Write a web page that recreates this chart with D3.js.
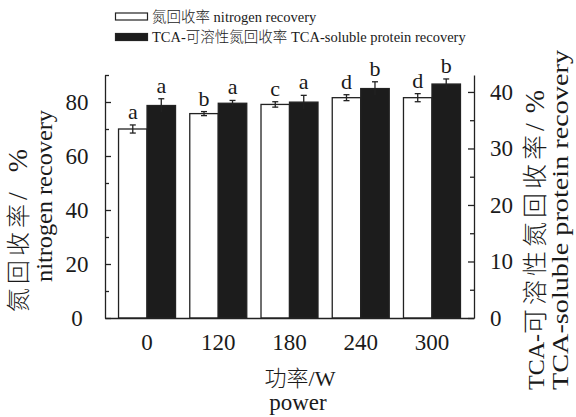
<!DOCTYPE html>
<html>
<head>
<meta charset="utf-8">
<script src="https://cdn.jsdelivr.net/npm/d3@7"></script>
<style>
  body { margin: 0; background: #fff; }
  svg { display: block; }
  text { font-family: "Liberation Serif", "Times New Roman", "Noto Sans CJK SC", serif; fill: #1a1a1a; }
  .cjk { font-weight: 300; }
</style>
</head>
<body>
<svg id="chart" width="576" height="417"></svg>
<script>
// Microwave power levels (W)
const powers = ["0", "120", "180", "240", "300"];

// Nitrogen recovery (%), left axis
const nitrogenRecovery = [70.0, 75.7, 79.1, 81.6, 81.6];
const nitrogenError = [1.5, 0.75, 1.0, 1.1, 1.5];
const nitrogenLetters = ["a", "b", "c", "d", "d"];

// TCA-soluble protein recovery (%), right axis
const tcaRecovery = [37.6, 38.0, 38.2, 40.6, 41.4];
const tcaError = [1.2, 0.5, 1.2, 1.2, 0.9];
const tcaLetters = ["a", "a", "a", "b", "b"];

const leftTicks = [0, 20, 40, 60, 80];
const leftMinorTicks = [10, 30, 50, 70, 90];
const rightTicks = [0, 10, 20, 30, 40];
const rightMinorTicks = [5, 15, 25, 35];

const seriesKeys = ["nitrogen", "tca"];
const seriesNames = ["氮回收率 nitrogen recovery", "TCA-可溶性氮回收率 TCA-soluble protein recovery"];
const seriesFills = ["#ffffff", "#1c1c1c"];

const svg = d3.select("#chart");
const ink = "#222";

const plot = { left: 105, right: 474, top: 75, bottom: 318 };

const x = d3.scaleBand().domain(powers).range([plot.left, plot.right]).paddingInner(0.2).paddingOuter(0.19);
const xs = d3.scaleBand().domain(seriesKeys).range([0, x.bandwidth()]);
const yL = d3.scaleLinear().domain([0, 90]).range([plot.bottom, plot.top]);
const yR = d3.scaleLinear().domain([0, 43]).range([plot.bottom, plot.top]);

const rows = powers.map((p, i) => [
  { p, key: "nitrogen", v: nitrogenRecovery[i], e: nitrogenError[i], letter: nitrogenLetters[i], y: yL, fill: seriesFills[0] },
  { p, key: "tca", v: tcaRecovery[i], e: tcaError[i], letter: tcaLetters[i], y: yR, fill: seriesFills[1] }
]).flat();

// Bars
svg.append("g").selectAll("rect").data(rows).join("rect")
  .attr("x", d => x(d.p) + xs(d.key))
  .attr("y", d => d.y(d.v))
  .attr("width", xs.bandwidth())
  .attr("height", d => d.y(0) - d.y(d.v))
  .attr("fill", d => d.fill)
  .attr("stroke", ink)
  .attr("stroke-width", 1.3);

// Error bars
const eb = svg.append("g").attr("stroke", ink).attr("stroke-width", 1.3).attr("fill", "none");
rows.forEach(d => {
  const cx = x(d.p) + xs(d.key) + xs.bandwidth() / 2;
  const y1 = d.y(d.v + d.e), y2 = d.y(d.v - d.e);
  eb.append("line").attr("x1", cx).attr("x2", cx).attr("y1", y1).attr("y2", y2);
  eb.append("line").attr("x1", cx - 3).attr("x2", cx + 3).attr("y1", y1).attr("y2", y1);
  eb.append("line").attr("x1", cx - 3).attr("x2", cx + 3).attr("y1", y2).attr("y2", y2)
    .attr("stroke", d.key === "tca" ? "none" : ink);
});

// Significance letters
svg.append("g").selectAll("text").data(rows).join("text")
  .attr("x", d => x(d.p) + xs(d.key) + xs.bandwidth() / 2)
  .attr("y", d => d.y(d.v + d.e) - 6)
  .attr("text-anchor", "middle")
  .style("font-size", "22px")
  .text(d => d.letter);

// Left axis
const gL = svg.append("g").attr("transform", `translate(${plot.left},0)`);
gL.call(d3.axisLeft(yL).tickValues(leftTicks).tickSizeInner(-6).tickSizeOuter(0).tickPadding(0).tickFormat(d3.format("d")));
gL.append("g").call(d3.axisLeft(yL).tickValues(leftMinorTicks).tickSizeInner(-4).tickSizeOuter(0).tickFormat(""))
  .select(".domain").remove();
gL.selectAll("text").attr("x", -28).attr("text-anchor", "middle")
  .style("font-size", "23px");

// Right axis
const gR = svg.append("g").attr("transform", `translate(${plot.right},0)`);
gR.call(d3.axisRight(yR).tickValues(rightTicks).tickSizeInner(-6).tickSizeOuter(0).tickPadding(0).tickFormat(d3.format("d")));
gR.append("g").call(d3.axisRight(yR).tickValues(rightMinorTicks).tickSizeInner(-4).tickSizeOuter(0).tickFormat(""))
  .select(".domain").remove();
gR.selectAll("text").attr("x", 16).attr("text-anchor", "start")
  .style("font-size", "23px");

// Bottom axis
const gB = svg.append("g").attr("transform", `translate(0,${plot.bottom})`);
gB.call(d3.axisBottom(x).tickSize(0).tickPadding(0));
gB.selectAll("text").attr("y", 32).attr("dy", 0)
  .style("font-size", "23px");

svg.selectAll(".domain").attr("stroke", ink).attr("stroke-width", 1.3);
svg.selectAll(".tick line").attr("stroke", ink).attr("stroke-width", 1.3);

// Axis titles
svg.append("text").attr("class", "cjk").attr("x", 300).attr("y", 386).attr("text-anchor", "middle")
  .style("font-size", "22px").text("功率/W");
svg.append("text").attr("x", 298).attr("y", 410).attr("text-anchor", "middle")
  .style("font-size", "23px").text("power");

// Vertical titles, drawn bottom-to-top from yStart; each part may carry its own size and spacing
function vTitle(cx, yStart, parts, opts = {}) {
  const t = svg.append("text")
    .attr("class", opts.cls || null)
    .attr("transform", `translate(${cx},${yStart}) rotate(-90)`)
    .attr("dy", "0.35em");
  if (opts.len) t.attr("textLength", opts.len).attr("lengthAdjust", "spacingAndGlyphs");
  parts.forEach(p => {
    t.append("tspan")
      .attr("dx", p.dx || 0)
      .style("font-size", p.size + "px")
      .style("letter-spacing", (p.ls || 0) + "px")
      .text(p.s);
  });
}
vTitle(21, 312, [
  { s: "氮回收率", size: 24, ls: 4 },
  { s: "/", size: 28, dx: 0 },
  { s: "%", size: 28, dx: 20 }
], { cls: "cjk" });
vTitle(46, 282, [{ s: "nitrogen recovery", size: 24 }], { len: 172 });
vTitle(538, 390, [
  { s: "TCA-", size: 24 },
  { s: "可溶性氮回收率", size: 25, ls: 4 },
  { s: "/", size: 28, dx: 0 },
  { s: "%", size: 28, dx: 10 }
], { cls: "cjk" });
vTitle(562, 390, [{ s: "TCA-soluble protein recovery", size: 24 }], { len: 340 });

// Legend
const legend = svg.append("g");
seriesNames.forEach((name, i) => {
  const ly = 13 + i * 20.5;
  legend.append("rect").attr("x", 115.5).attr("y", ly).attr("width", 32).attr("height", 7)
    .attr("fill", seriesFills[i]).attr("stroke", ink).attr("stroke-width", 1.2);
  legend.append("text").attr("class", "cjk").attr("x", 152).attr("y", ly + 8.5)
    .style("font-size", "14.5px").text(name);
});
</script>
</body>
</html>
